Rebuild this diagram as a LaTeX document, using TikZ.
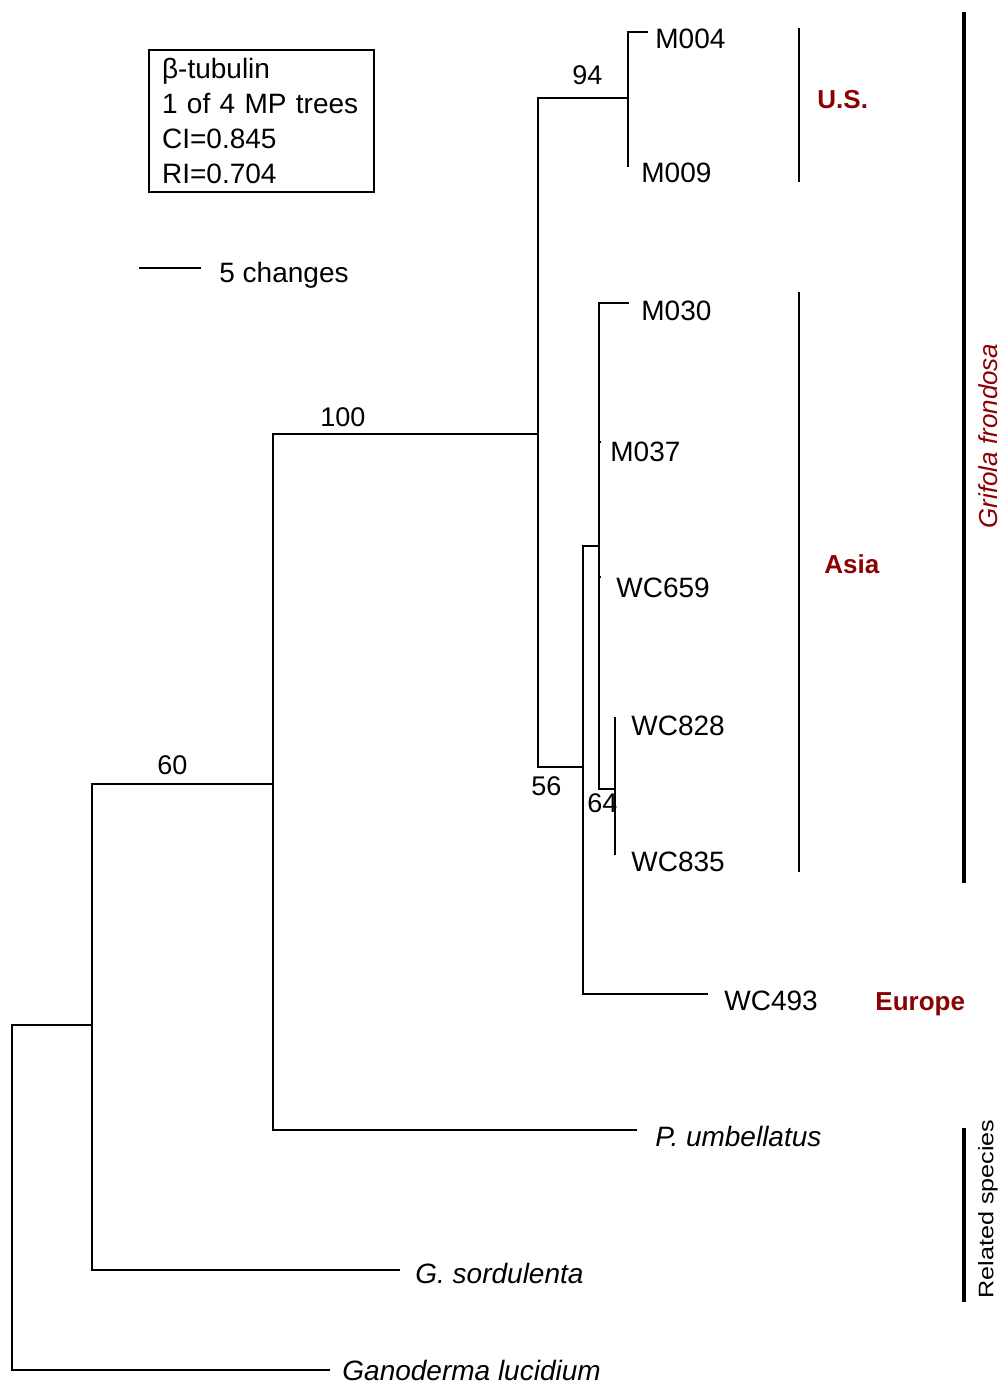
\documentclass[tikz,border=0pt]{standalone}
\usepackage{fontspec}
\setmainfont{Liberation Sans}
\usepackage{xcolor}
\usetikzlibrary{positioning}
\definecolor{regionred}{RGB}{139,0,0}
\tikzset{
  branch/.style  = {line width=1.15pt},
  leaf/.style    = {anchor=base west, inner sep=0pt, font=\fontsize{14}{16}\selectfont},
  species/.style = {leaf, font=\fontsize{14}{16}\selectfont\itshape},
  boot/.style    = {anchor=base west, inner sep=0pt, font=\fontsize{13.5}{16}\selectfont},
  region/.style  = {anchor=base west, inner sep=0pt, text=regionred,
                    font=\fontsize{13}{16}\selectfont\bfseries},
  infobox/.style = {draw, line width=1.1pt, align=left, anchor=north west,
                    text width=99.5pt, minimum height=71pt, inner xsep=6.5pt,
                    font=\fontsize{14}{17.6}\selectfont},
  cladebar/.style = {line width=1.2pt},
  groupbar/.style = {line width=1.7pt},
}

\begin{document}
\begin{tikzpicture}[x=0.5pt, y=-0.5pt]
  \useasboundingbox (0,0) rectangle (1003,1384);

  % internal nodes
  \coordinate (root)  at (12,1200);
  \coordinate (n60)   at (92,1025);
  \coordinate (n100)  at (273,784);
  \coordinate (nGf)   at (538,434);
  \coordinate (n94)   at (628,98);
  \coordinate (n56)   at (583,767);
  \coordinate (nAsia) at (599,546);
  \coordinate (n64)   at (615,789);

  % branch tips
  \coordinate (tM004)  at (648,32);
  \coordinate (tM009)  at (628,167);
  \coordinate (tM030)  at (629,303);
  \coordinate (tM037)  at (601,442);
  \coordinate (tWC659) at (601,577);
  \coordinate (tWC828) at (615,717);
  \coordinate (tWC835) at (615,855);
  \coordinate (tWC493) at (708,994);
  \coordinate (tPumb)  at (637,1130);
  \coordinate (tGsord) at (400,1270);
  \coordinate (tGluc)  at (330,1370);

  \draw[branch] (root) |- (n60);
  \draw[branch] (root) |- (tGluc);
  \draw[branch] (n60) |- (n100);
  \draw[branch] (n60) |- (tGsord);
  \draw[branch] (n100) |- (nGf);
  \draw[branch] (n100) |- (tPumb);
  \draw[branch] (nGf) |- (n94);
  \draw[branch] (nGf) |- (n56);
  \draw[branch] (n94) |- (tM004);
  \draw[branch] (n94) |- (tM009);
  \draw[branch] (n56) |- (nAsia);
  \draw[branch] (n56) |- (tWC493);
  \draw[branch] (nAsia) |- (tM030);
  \draw[branch] (nAsia) |- (tM037);
  \draw[branch] (nAsia) |- (tWC659);
  \draw[branch] (nAsia) |- (n64);
  \draw[branch] (n64) |- (tWC828);
  \draw[branch] (n64) |- (tWC835);

  \node[leaf] (M004)  at (655,49)   {M004};
  \node[leaf] (M009)  at (641,183)  {M009};
  \node[leaf] (M030)  at (641,321)  {M030};
  \node[leaf] (M037)  at (610,462)  {M037};
  \node[leaf] (WC659) at (616,597)  {WC659};
  \node[leaf] (WC828) at (631,735)  {WC828};
  \node[leaf] (WC835) at (631,871)  {WC835};
  \node[leaf] (WC493) at (724,1010) {WC493};
  \node[species] (Pumb)  at (655,1146) {P. umbellatus};
  \node[species] (Gsord) at (415,1283) {G. sordulenta};
  \node[species] (Gluc)  at (342,1380) {Ganoderma lucidium};

  % bootstrap values
  \node[boot] (b94)  at (572,85)  {94};
  \node[boot] (b100) at (320,427) {100};
  \node[boot] (b60)  at (157,774) {60};
  \node[boot] (b56)  at (531,795) {56};
  \node[boot] (b64)  at (587,812) {64};

  % geographic groups
  \draw[cladebar] (799,28) -- (799,182);
  \draw[cladebar] (799,292) -- (799,872);
  \node[region] (US)     at (817,109)  {U.S.};
  \node[region] (Asia)   at (824,573)  {Asia};
  \node[region] (Europe) at (875,1010) {Europe};

  \draw[groupbar] (964,12) -- (964,883);
  \draw[groupbar] (964,1128) -- (964,1302);
  \node[rotate=90, inner sep=0pt, text=regionred,
        font=\fontsize{13}{15}\selectfont\itshape] (Gf) at (988,436) {Grifola frondosa};
  \node[rotate=90, inner sep=0pt,
        font=\fontsize{10.5}{12}\selectfont] (rel) at (988,1209) {\scalebox{1.2}[1]{Related species}};

  % legend
  \node[infobox] (info) at (148,49) {β-tubulin\\1 of 4 MP trees\\CI=0.845\\RI=0.704};
  \coordinate (sbL) at (139,268);
  \coordinate (sbR) at (201,268);
  \draw[branch] (sbL) -- (sbR);
  \node[leaf] (scale) at (219,283) {5 changes};
\end{tikzpicture}
\end{document}
